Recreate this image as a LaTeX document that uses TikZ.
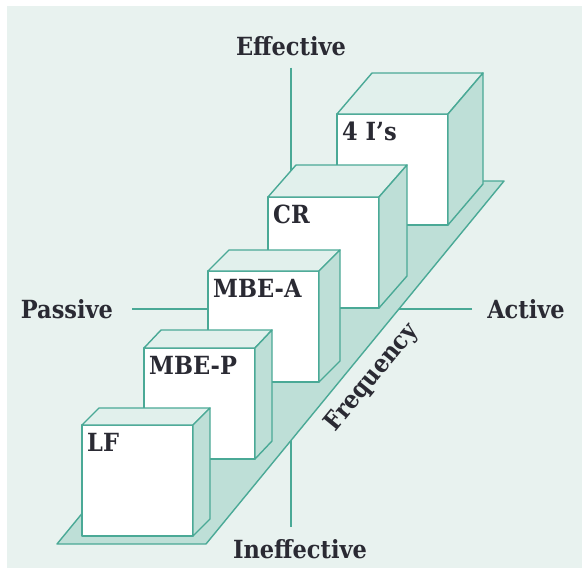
\documentclass[tikz,border=0pt]{standalone}
\usepackage{fontspec}
\setmainfont{DejaVu Serif Condensed Bold}
\definecolor{panel}{HTML}{E8F2EF}
\definecolor{edge}{HTML}{4AA996}
\definecolor{sideshade}{HTML}{BEDFD7}
\definecolor{topshade}{HTML}{E1F0EC}
\definecolor{ink}{HTML}{2A2A33}

\begin{document}
\begin{tikzpicture}[x=1pt,y=-1pt]
\tikzstyle{axis-label}=[text=ink, font=\fontsize{25}{28}\selectfont, inner sep=2pt]
\tikzstyle{axis-line}=[draw=edge, line width=1.4pt]
\tikzstyle{box-front}=
[
	draw=edge, fill=white, line width=1.4pt, line join=round,
	rectangle, minimum width=111pt, minimum height=111pt,
	inner sep=0pt, outer sep=0pt, anchor=north west
]
\tikzstyle{box-top}=[draw=edge, fill=topshade, line width=1.4pt, line join=round]
\tikzstyle{box-side}=[draw=edge, fill=sideshade, line width=1.4pt, line join=round]
\tikzstyle{box-label}=
[
	text=ink, font=\fontsize{25}{28}\selectfont,
	anchor=north west, inner sep=0pt, xshift=5pt, yshift=-8pt
]

\useasboundingbox (0,0) rectangle (582,568);
\fill[panel] (7,6) rectangle (582,568);

% axes
\node[axis-label, anchor=base] (effective) at (291,55) {Effective};
\node[axis-label, anchor=base] (ineffective) at (300,558) {Ineffective};
\node[axis-label] (passive) at (67,309) {Passive};
\node[axis-label] (active) at (526,309) {Active};
\coordinate (centre) at (291,309);
\draw[axis-line, shorten <=10pt] (effective) -- (centre);
\draw[axis-line, shorten <=10pt] (ineffective.north -| centre) -- (centre);
\draw[axis-line, shorten <=17pt] (passive) -- (centre);
\draw[axis-line, shorten <=13pt] (active) -- (centre);

% platform
\draw[box-side] (57,544) -- (206,544) -- (504,181) -- (355,181) -- cycle;

% boxes, back to front
\node[box-front, label={[box-label]north west:4 I’s}] (fouris) at (337,114) {};
\draw[box-top] (fouris.north west) -- ++(35,-41) -- ++(111,0) -- (fouris.north east) -- cycle;
\draw[box-side] (fouris.north east) -- ++(35,-41) -- ++(0,111) -- (fouris.south east) -- cycle;

\node[box-front, label={[box-label]north west:CR}] (cr) at (268,197) {};
\draw[box-top] (cr.north west) -- ++(28,-32) -- ++(111,0) -- (cr.north east) -- cycle;
\draw[box-side] (cr.north east) -- ++(28,-32) -- ++(0,111) -- (cr.south east) -- cycle;

\node[box-front, label={[box-label]north west:MBE-A}] (mbea) at (208,271) {};
\draw[box-top] (mbea.north west) -- ++(21,-21) -- ++(111,0) -- (mbea.north east) -- cycle;
\draw[box-side] (mbea.north east) -- ++(21,-21) -- ++(0,111) -- (mbea.south east) -- cycle;

\node[box-front, label={[box-label]north west:MBE-P}] (mbep) at (144,348) {};
\draw[box-top] (mbep.north west) -- ++(17,-18) -- ++(111,0) -- (mbep.north east) -- cycle;
\draw[box-side] (mbep.north east) -- ++(17,-18) -- ++(0,111) -- (mbep.south east) -- cycle;

\node[box-front, label={[box-label]north west:LF}] (lf) at (82,425) {};
\draw[box-top] (lf.north west) -- ++(17,-17) -- ++(111,0) -- (lf.north east) -- cycle;
\draw[box-side] (lf.north east) -- ++(17,-17) -- ++(0,111) -- (lf.south east) -- cycle;

\node[axis-label, rotate=50.6] (frequency) at (372,378) {Frequency};
\end{tikzpicture}
\end{document}
